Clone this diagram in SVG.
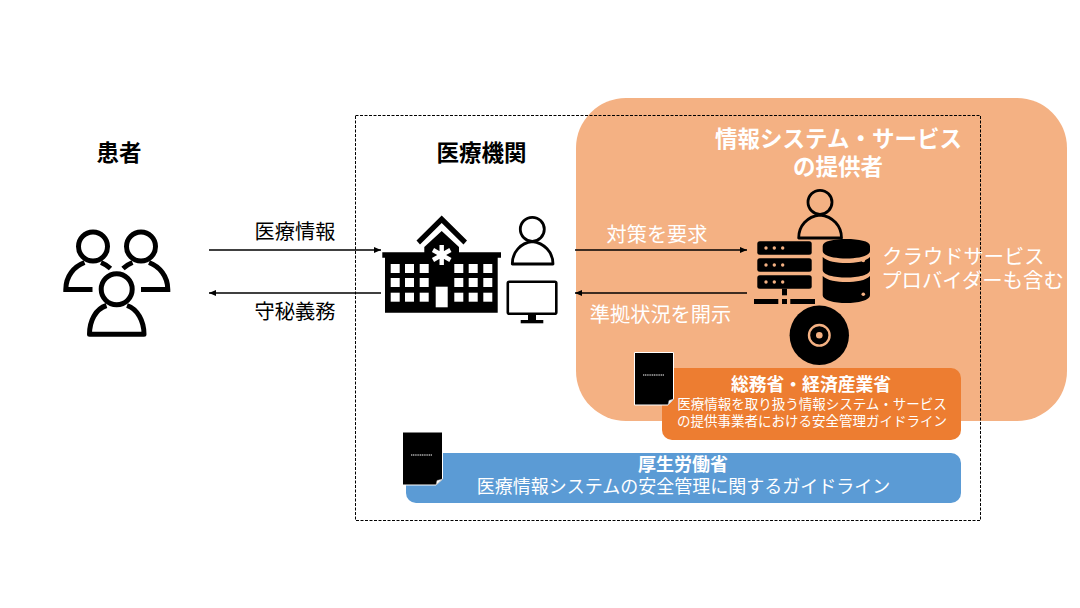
<svg xmlns="http://www.w3.org/2000/svg" width="1080" height="608" viewBox="0 0 1080 608">
<style>
text{font-family:"Noto Sans CJK JP","Noto Sans CJK SC",sans-serif;text-anchor:middle}
.t{font-size:22.500px;font-weight:700}
.l{font-size:20.200px}
.w{fill:#fff}
.k{fill:#000}
.ln{fill:none;stroke:#000;stroke-width:1.6}
.hd{fill:none;stroke:#000}
.win{fill:#fff}
.doc{fill:#000;stroke:#fff;stroke-width:1}
.fold{fill:#fff;stroke:#aaa;stroke-width:.5}
.dash{stroke:#fff;stroke-width:1;stroke-dasharray:1.2 .6}
</style>
<defs>
<marker id="arr" markerWidth="8" markerHeight="6" refX="7" refY="3" orient="auto-start-reverse" markerUnits="userSpaceOnUse"><path d="M0 0L7 3L0 6Z" fill="#000"/></marker>
</defs>
<rect width="1080" height="608" fill="#fff"/>
<rect id="provider-area" x="576" y="98" width="491" height="323" rx="50" fill="#F4B183"/>
<rect id="org-frame" x="355.5" y="115.5" width="625" height="405" fill="none" stroke="#000" stroke-width="1" stroke-dasharray="3 1.5"/>

<g id="patients">
<text class="t" x="119" y="161">患者</text>
<g class="hd" stroke-width="5">
<circle cx="93" cy="246.500" r="14.500"/>
<circle cx="141" cy="246.500" r="14.500"/>
<circle cx="116.700" cy="289.300" r="15.500"/>
<path d="M92.500 289.500H65.800C65.800 276 74 266.500 84.500 262.500M110.500 268.500Q106 264.500 101 262.500"/>
<path d="M141 289.500H167.800C167.800 276 159.500 266.500 149 262.500M123 268.500Q127.500 264.500 132.500 262.500"/>
<path d="M106.500 305.500C95.500 309 89.500 321 89.500 334.300H144C144 321 137.500 309 127 305.500" stroke-linejoin="round"/>
</g>
</g>

<g id="hospital">
<text class="t" x="481.500" y="161">医療機関</text>
<path class="k" d="M441.700 215.500L467 240.500L463.500 244.500L441.700 223L420 244.500L416.500 240.500Z"/>
<path class="k" d="M441.700 231L459 247V252.300H501V257.700H497.700V312.700H385V257.700H382.300V252.300H424.300V247Z"/>
<g class="win">
<rect x="390.700" y="264" width="9" height="9"/><rect x="405" y="264" width="9" height="9"/><rect x="419.700" y="264" width="9" height="9"/>
<rect x="454.300" y="264" width="9" height="9"/><rect x="468.700" y="264" width="9" height="9"/><rect x="483.300" y="264" width="9" height="9"/>
<rect x="390.700" y="278" width="9" height="9"/><rect x="405" y="278" width="9" height="9"/><rect x="419.700" y="278" width="9" height="9"/>
<rect x="454.300" y="278" width="9" height="9"/><rect x="468.700" y="278" width="9" height="9"/><rect x="483.300" y="278" width="9" height="9"/>
<rect x="390.700" y="292.700" width="9" height="9"/><rect x="405" y="292.700" width="9" height="9"/><rect x="419.700" y="292.700" width="9" height="9"/>
<rect x="454.300" y="292.700" width="9" height="9"/><rect x="468.700" y="292.700" width="9" height="9"/><rect x="483.300" y="292.700" width="9" height="9"/>
<rect x="435.700" y="286.700" width="12" height="20.600"/>
</g>
<g stroke="#fff" stroke-width="4.400">
<path d="M441.700 245V265M433 250L450.400 260M433 260L450.400 250"/>
</g>
</g>

<g id="staff">
<g class="hd" stroke-width="2.800">
<circle cx="532.300" cy="229.300" r="12"/>
<path d="M512.300 264C512.300 252 520.500 243 532.300 241.500C544 243 553 252 553 264Z" stroke-linejoin="round"/>
</g>
</g>

<g id="terminal">
<rect x="507.800" y="281.800" width="48.500" height="32" rx="1.500" fill="none" stroke="#000" stroke-width="2.600"/>
<rect x="528" y="315" width="8" height="5.500" fill="#000"/>
<rect x="520.700" y="320" width="22.600" height="3.300" fill="#000"/>
</g>

<g id="connectors">
<path class="ln" d="M209 250H381" marker-end="url(#arr)"/>
<path class="ln" d="M381 293H209" marker-end="url(#arr)"/>
<path class="ln" d="M575 250H747" marker-end="url(#arr)"/>
<path class="ln" d="M747 293H575" marker-end="url(#arr)"/>
</g>
<g id="connector-labels">
<text class="l" x="295" y="239">医療情報</text>
<text class="l" x="295" y="319">守秘義務</text>
<text class="l w" x="657" y="242">対策を要求</text>
<text class="l w" x="660.500" y="322">準拠状況を開示</text>
</g>

<g id="provider">
<text class="t w" x="838.500" y="147">情報システム・サービス</text>
<text class="t w" x="838" y="175">の提供者</text>
<g class="hd" stroke-width="2.800">
<circle cx="820" cy="202.300" r="12"/>
<path d="M798.700 238C798.700 226 807 216.500 820 215C833 216.500 841.500 226 841.500 238Z" stroke-linejoin="round"/>
</g>
</g>

<g id="servers">
<rect x="757.300" y="241.300" width="54.400" height="13.400" rx="2.500" fill="#000"/>
<rect x="757.300" y="258.300" width="54.400" height="13.400" rx="2.500" fill="#000"/>
<rect x="757.300" y="275.300" width="54.400" height="13.400" rx="2.500" fill="#000"/>
<g fill="#F4B183">
<circle cx="766" cy="248" r="1.700"/><circle cx="774.300" cy="248" r="1.700"/><circle cx="782.700" cy="248" r="1.700"/>
<circle cx="766" cy="265" r="1.700"/><circle cx="774.300" cy="265" r="1.700"/><circle cx="782.700" cy="265" r="1.700"/>
<circle cx="766" cy="282" r="1.700"/><circle cx="774.300" cy="282" r="1.700"/><circle cx="782.700" cy="282" r="1.700"/>
</g>
<rect x="782" y="288.700" width="5" height="6.600" fill="#000"/>
<rect x="754" y="299" width="24.300" height="5" fill="#000"/>
<rect x="782" y="299" width="5" height="5" fill="#000"/>
<rect x="790.300" y="299" width="24.700" height="5" fill="#000"/>
</g>

<g id="database">
<path class="k" d="M822.700 246C822.700 241 834 239 846.300 239S870 241 870 246V251C870 256 858 258.500 846.300 258.500S822.700 256 822.700 251Z"/>
<path class="k" d="M822.700 257C827 261.500 837 263 846.300 263S866 261.500 870 257V270C870 275 858 277.500 846.300 277.500S822.700 275 822.700 270Z"/>
<path class="k" d="M822.700 276C827 280.500 837 282 846.300 282S866 280.500 870 276V295C870 300.500 858 303 846.300 303S822.700 300.500 822.700 295Z"/>
<g fill="#F4B183">
<circle cx="863.300" cy="260.500" r="1.800"/><circle cx="863.300" cy="277.500" r="1.800"/><circle cx="863.300" cy="294.300" r="1.800"/>
</g>
</g>

<g id="disc">
<circle cx="819.300" cy="335.300" r="29.700" fill="#000"/>
<circle cx="819.300" cy="335.300" r="10.300" fill="none" stroke="#F4B183" stroke-width="2.400"/>
<circle cx="819.300" cy="335.300" r="3.300" fill="#F4B183"/>
</g>

<text id="cloud-note-1" class="w" font-size="20.300" x="963.500" y="264">クラウドサービス</text>
<text id="cloud-note-2" class="w" font-size="20.400" x="972.500" y="288">プロバイダーも含む</text>

<g id="guideline-meti">
<rect x="662" y="368" width="299" height="72" rx="10" fill="#ED7D31"/>
<text class="w" x="811" y="391" font-size="17.800" font-weight="700">総務省・経済産業省</text>
<text class="w" x="812" y="409" font-size="13.500">医療情報を取り扱う情報システム・サービス</text>
<text class="w" x="812" y="425.500" font-size="13.500">の提供事業者における安全管理ガイドライン</text>
<path class="doc" d="M634.500 352.500H673.500V399L668 405H634.500Z"/>
<path class="fold" d="M668 405L669 400.500L673.500 399Z"/>
<line class="dash" x1="643" y1="375" x2="664" y2="375"/>
</g>

<g id="guideline-mhlw">
<rect x="406" y="453" width="555" height="50" rx="10" fill="#5B9BD5"/>
<text class="w" x="683" y="471" font-size="18" font-weight="700">厚生労働省</text>
<text class="w" x="683.500" y="493" font-size="18">医療情報システムの安全管理に関するガイドライン</text>
<path class="doc" d="M402.500 432H442.500V479L436 485H402.500Z"/>
<path class="fold" d="M436 485L437 480.500L442.500 479Z"/>
<line class="dash" x1="411" y1="455" x2="432" y2="455"/>
</g>
</svg>
